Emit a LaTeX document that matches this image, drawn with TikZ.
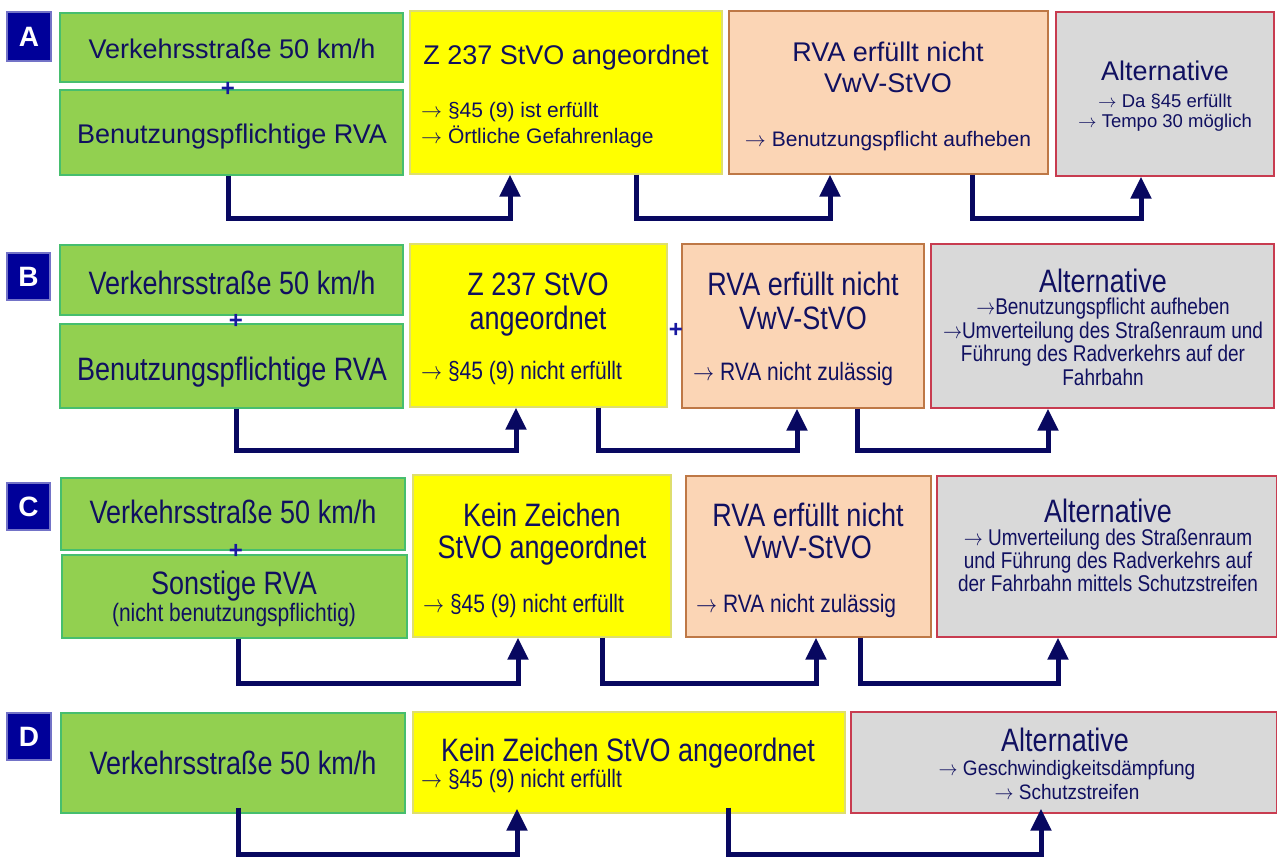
\documentclass[tikz,border=0pt]{standalone}
\usepackage{fix-cm}
\usepackage{fontspec}
\setmainfont{Liberation Sans}
\usepackage{graphicx}
\usetikzlibrary{arrows.meta,fit}

\definecolor{navytext}{RGB}{16,16,96}
\definecolor{navyarrow}{RGB}{8,8,96}
\definecolor{labelblue}{RGB}{0,0,153}
\definecolor{plusblue}{RGB}{24,24,160}
\definecolor{boxgreen}{RGB}{146,208,80}
\definecolor{boxgreenline}{RGB}{70,190,110}
\definecolor{boxyellow}{RGB}{255,255,0}
\definecolor{boxyellowline}{RGB}{222,222,110}
\definecolor{boxpeach}{RGB}{251,213,181}
\definecolor{boxpeachline}{RGB}{190,120,70}
\definecolor{boxgrey}{RGB}{217,217,217}
\definecolor{boxgreyline}{RGB}{200,60,80}

\newcommand{\tall}[1]{\scalebox{1}[1.2]{#1}}
\newcommand{\tallish}[1]{\scalebox{1}[1.1]{#1}}
\newcommand{\arr}{\ensuremath{\rightarrow}}

\tikzset{
    box/.style={line width=1.2pt, inner sep=0pt},
    greenbox/.style={box, fill=boxgreen, draw=boxgreenline},
    yellowbox/.style={box, fill=boxyellow, draw=boxyellowline},
    peachbox/.style={box, fill=boxpeach, draw=boxpeachline},
    greybox/.style={box, fill=boxgrey, draw=boxgreyline},
    letterbox/.style={box, fill=labelblue, draw=labelblue!55!white},
    letter/.style={inner sep=0pt, text=white, text height=20pt, text depth=0pt,
        font=\fontsize{28}{28}\selectfont\bfseries},
    txt/.style={inner sep=0pt, text=navytext, text depth=0pt},
    head/.style={txt, font=\fontsize{27}{27}\selectfont, text height=19pt},
    sub/.style={txt, font=\fontsize{21}{21}\selectfont, text height=15pt},
    note/.style={txt, font=\fontsize{18.5}{18.5}\selectfont, text height=13pt},
    Thead/.style={head, text height=23pt},
    Tsub/.style={sub, text height=18pt},
    Tnote/.style={txt, font=\fontsize{19}{19}\selectfont, text height=16pt},
    plus/.style={inner sep=0pt, text=plusblue, text height=15pt, text depth=0pt,
        font=\fontsize{24}{24}\selectfont\bfseries},
    flow/.style={draw=navyarrow, line width=5pt, -{Triangle[length=22pt,width=20pt]}},
}

\begin{document}
\begin{tikzpicture}[x=1pt, y=-1pt]
    \path[use as bounding box, fill=white] (0,0) rectangle (1277,858);

    % row A
    \node[letterbox, fit={(7,12) (51,61)}] (la) {};
    \node[letter] (la-t) at (la.center) {A};
    \node[greenbox, fit={(60,13) (403,82)}] (ga1) {};
    \node[greenbox, fit={(60,90) (403,175)}] (ga2) {};
    \node[yellowbox, fit={(410,11) (722,174)}] (ya) {};
    \node[peachbox, fit={(729,11) (1048,174)}] (oa) {};
    \node[greybox, fit={(1056,12) (1274,176)}] (alta) {};

    \node[head] (ta1) at (232,49) {Verkehrsstraße 50 km/h};
    \node[plus] (pa) at (228,89) {+};
    \node[head] (ta2) at (232,134) {Benutzungspflichtige RVA};
    \node[head] (ta3) at (566,55) {Z 237 StVO angeordnet};
    \node[sub, anchor=west] (ta4) at (421,110) {\arr{} §45 (9) ist erfüllt};
    \node[sub, anchor=west] (ta5) at (421,136) {\arr{} Örtliche Gefahrenlage};
    \node[head] (ta6) at (888,52) {RVA erfüllt nicht};
    \node[head] (ta7) at (888,83) {VwV-StVO};
    \node[sub] (ta8) at (888,139) {\arr{} Benutzungspflicht aufheben};
    \node[head] (ta9) at (1165,71) {Alternative};
    \node[note] (ta10) at (1165,101) {\arr{} Da §45 erfüllt};
    \node[note] (ta11) at (1165,121) {\arr{} Tempo 30 möglich};

    \draw[flow] ([xshift=-3.5pt]ga2.south) -- ++(0,43) -| ([xshift=-56pt]ya.south);
    \draw[flow] ([xshift=70pt]ya.south) -- ++(0,44) -| ([xshift=-58.5pt]oa.south);
    \draw[flow] ([xshift=83.5pt]oa.south) -- ++(0,44) -| ([xshift=-24pt]alta.south);

    % row B
    \node[letterbox, fit={(7,253) (50,300)}] (lb) {};
    \node[letter] (lb-t) at (lb.center) {B};
    \node[greenbox, fit={(60,245) (403,315)}] (gb1) {};
    \node[greenbox, fit={(60,324) (403,408)}] (gb2) {};
    \node[yellowbox, fit={(410,244) (667,407)}] (yb) {};
    \node[peachbox, fit={(682,244) (924,408)}] (ob) {};
    \node[greybox, fit={(931,244) (1274,408)}] (altb) {};

    \node[Thead] (tb1) at (232,283) {\tall{Verkehrsstraße 50 km/h}};
    \node[plus] (pb1) at (236,321) {+};
    \node[Thead] (tb2) at (232,369) {\tall{Benutzungspflichtige RVA}};
    \node[Thead] (tb3) at (538,284) {\tall{Z 237 StVO}};
    \node[Thead] (tb4) at (538,318) {\tall{angeordnet}};
    \node[Tsub, anchor=west] (tb5) at (421,371) {\tall{\arr{} §45 (9) nicht erfüllt}};
    \node[plus] (pb2) at (676,330) {+};
    \node[Thead] (tb6) at (803,284) {\tall{RVA erfüllt nicht}};
    \node[Thead] (tb7) at (803,318) {\tall{VwV-StVO}};
    \node[Tsub, anchor=west] (tb8) at (693,372) {\tall{\arr{} RVA nicht zulässig}};
    \node[Thead] (tb9) at (1103,281) {\tall{Alternative}};
    \node[Tnote] (tb10) at (1103,307) {\tall{\arr Benutzungspflicht aufheben}};
    \node[Tnote] (tb11) at (1103,331) {\tall{\arr Umverteilung des Straßenraum und}};
    \node[Tnote] (tb12) at (1103,354) {\tall{Führung des Radverkehrs auf der}};
    \node[Tnote] (tb13) at (1103,377) {\tall{Fahrbahn}};

    \draw[flow] ([xshift=4.5pt]gb2.south) -- ++(0,42) -| ([xshift=-22.5pt]yb.south);
    \draw[flow] ([xshift=59.5pt]yb.south) -- ++(0,43) -| ([xshift=-6pt]ob.south);
    \draw[flow] ([xshift=54pt]ob.south) -- ++(0,42) -| ([xshift=-54.5pt]altb.south);

    % row C
    \node[letterbox, fit={(7,483) (50,530)}] (lc) {};
    \node[letter] (lc-t) at (lc.center) {C};
    \node[greenbox, fit={(61,478) (405,550)}] (gc1) {};
    \node[greenbox, fit={(62,555) (407,638)}] (gc2) {};
    \node[yellowbox, fit={(413,475) (671,637)}] (yc) {};
    \node[peachbox, fit={(686,476) (931,637)}] (oc) {};
    \node[greybox, fit={(937,476) (1277,637)}] (altc) {};

    \node[Thead] (tc1) at (233,512) {\tall{Verkehrsstraße 50 km/h}};
    \node[plus] (pc) at (236,551) {+};
    \node[Thead] (tc2) at (234,583) {\tall{Sonstige RVA}};
    \node[Tsub] (tc3) at (234,612) {\tall{(nicht benutzungspflichtig)}};
    \node[Thead] (tc4) at (542,515) {\tall{Kein Zeichen}};
    \node[Thead] (tc5) at (542,547) {\tall{StVO angeordnet}};
    \node[Tsub, anchor=west] (tc6) at (423,603) {\tall{\arr{} §45 (9) nicht erfüllt}};
    \node[Thead] (tc7) at (808,515) {\tall{RVA erfüllt nicht}};
    \node[Thead] (tc8) at (808,547) {\tall{VwV-StVO}};
    \node[Tsub, anchor=west] (tc9) at (696,603) {\tall{\arr{} RVA nicht zulässig}};
    \node[Thead] (tc10) at (1108,511) {\tall{Alternative}};
    \node[Tnote] (tc11) at (1108,537) {\tall{\arr{} Umverteilung des Straßenraum}};
    \node[Tnote] (tc12) at (1108,560) {\tall{und Führung des Radverkehrs auf}};
    \node[Tnote] (tc13) at (1108,583) {\tall{der Fahrbahn mittels Schutzstreifen}};

    \draw[flow] ([xshift=3.5pt]gc2.south) -- ++(0,45) -| ([xshift=-24pt]yc.south);
    \draw[flow] ([xshift=60pt]yc.south) -- ++(0,46) -| ([xshift=7.5pt]oc.south);
    \draw[flow] ([xshift=51.5pt]oc.south) -- ++(0,46) -| ([xshift=-49pt]altc.south);

    % row D
    \node[letterbox, fit={(7,713) (51,760)}] (ld) {};
    \node[letter] (ld-t) at (ld.center) {D};
    \node[greenbox, fit={(61,713) (405,813)}] (gd) {};
    \node[yellowbox, fit={(413,712) (845,813)}] (yd) {};
    \node[greybox, fit={(851,712) (1277,813)}] (altd) {};

    \node[Thead] (td1) at (233,763) {\tall{Verkehrsstraße 50 km/h}};
    \node[Thead] (td2) at (628,750) {\tall{Kein Zeichen StVO angeordnet}};
    \node[Tsub, anchor=west] (td3) at (421,778) {\tall{\arr{} §45 (9) nicht erfüllt}};
    \node[Thead] (td4) at (1065,740) {\tall{Alternative}};
    \node[Tnote, text height=14.5pt] (td5) at (1067,768) {\tallish{\arr{} Geschwindigkeitsdämpfung}};
    \node[Tnote, text height=14.5pt] (td6) at (1067,792) {\tallish{\arr{} Schutzstreifen}};

    \draw[flow] ([xshift=5pt,yshift=6pt]gd.south) -- ++(0,47) -| ([xshift=-112pt,yshift=5pt]yd.south);
    \draw[flow] ([xshift=99pt,yshift=6pt]yd.south) -- ++(0,47) -| ([xshift=-23pt,yshift=5pt]altd.south);
\end{tikzpicture}
\end{document}
